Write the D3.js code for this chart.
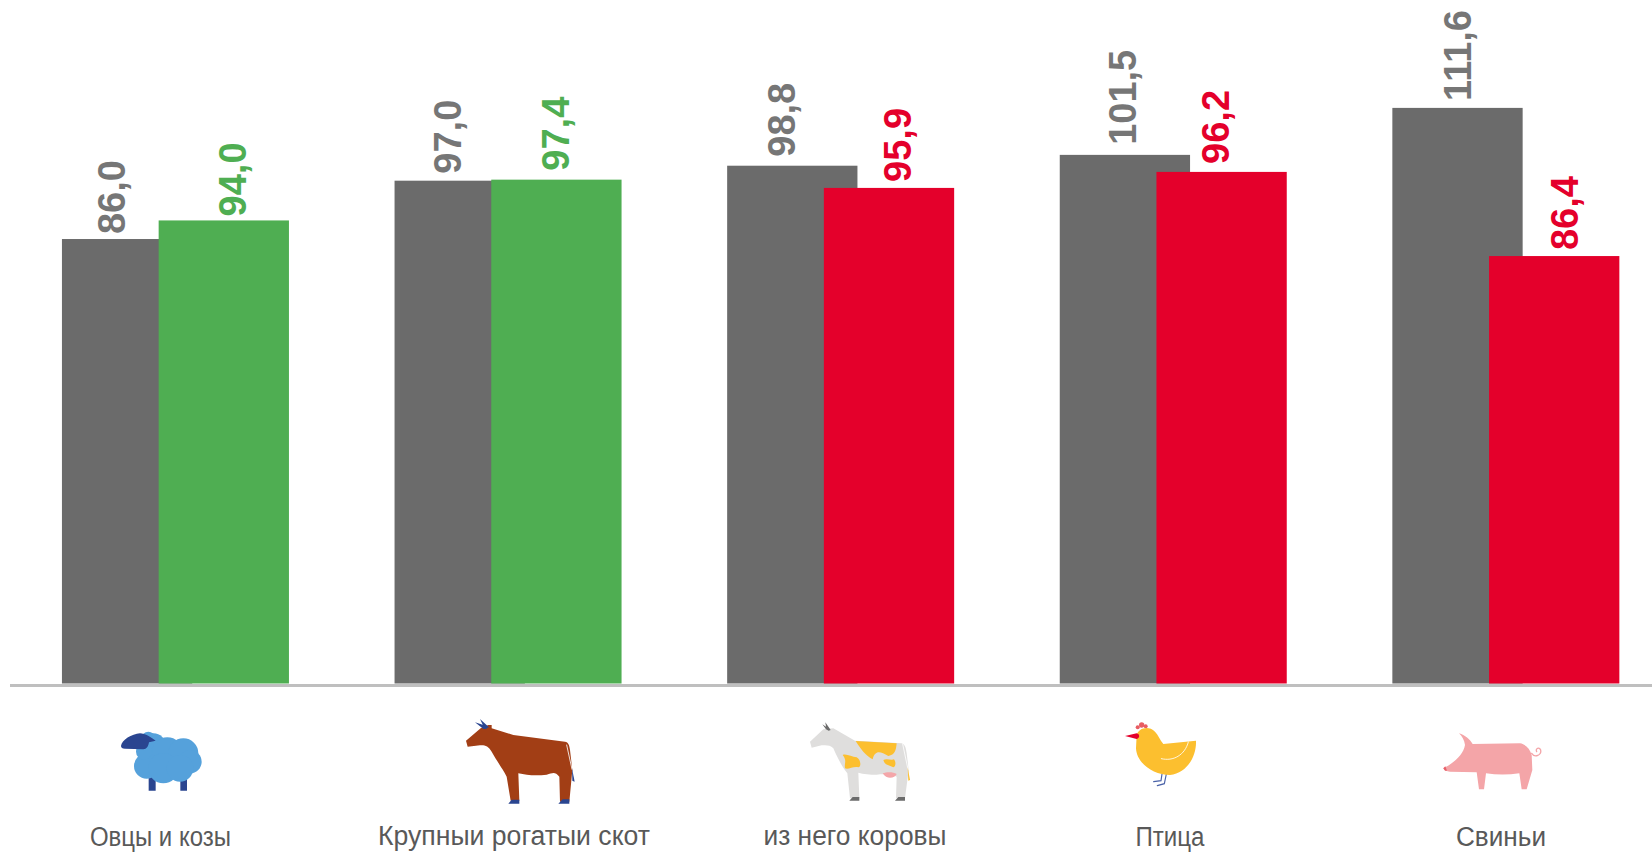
<!DOCTYPE html>
<html>
<head>
<meta charset="utf-8">
<script src="https://cdn.jsdelivr.net/npm/d3@7"></script>
<style>
  html, body { margin: 0; padding: 0; background: #fff; overflow: hidden; }
  text { font-family: "Liberation Sans", Arial, sans-serif; }
</style>
</head>
<body>
<div id="chart"></div>
<script>
// categories and the printed labels
const categories = ["Овцы и козы", "Крупныи рогатыи скот", "из него коровы", "Птица", "Свиньи"];
const previousLabels = ["86,0", "97,0", "98,8", "101,5", "111,6"];
const currentLabels = ["94,0", "97,4", "95,9", "96,2", "86,4"];

// bar lengths as drawn in the picture (they do not quite follow the printed labels)
const previousValues = [86.1, 97.4, 100.3, 102.4, 111.5];
const currentValues = [89.7, 97.6, 96.0, 99.1, 82.8];

const w = 1652;
const h = 852;
const baseline = 683.5;

// label placement, hand fitted per label
const previousDx = [63, 66, 68, 76, 79];
const currentDx = [87, 78, 87, 73, 89];
const previousGap = [5, 7, 9, 10, 7];
const currentGap = [4, 9, 6, 8, 6];
const categoryX = [160.4, 514, 855, 1170, 1501];
const categoryY = [846, 845, 845, 846, 846];
const categoryWidth = [141, 272, 183, 69, 90];

const gray = "#6b6b6b";
const green = "#4fae52";
const red = "#e4002b";
const blue = "#2a4590";

const svg = d3.select("#chart").append("svg")
    .attr("width", w)
    .attr("height", h);

const x = d3.scaleBand()
    .domain(categories)
    .range([9.5, 1672.5])
    .paddingInner(0.3154)
    .paddingOuter(0.1577);

const y = d3.scaleLinear()
    .domain([0, 132.4])
    .range([baseline, 0]);

const barWidth = 130.3;
const overlap = 96.7;

// the later bar is green when it went up and red when it went down
const currentColor = i => (i < 2 ? green : red);

svg.selectAll(".previous")
    .data(categories)
    .enter().append("rect")
    .attr("class", "previous")
    .attr("x", d => x(d))
    .attr("y", (d, i) => y(previousValues[i]))
    .attr("width", barWidth)
    .attr("height", (d, i) => baseline - y(previousValues[i]))
    .attr("fill", gray);

svg.selectAll(".current")
    .data(categories)
    .enter().append("rect")
    .attr("class", "current")
    .attr("x", d => x(d) + overlap)
    .attr("y", (d, i) => y(currentValues[i]))
    .attr("width", barWidth)
    .attr("height", (d, i) => baseline - y(currentValues[i]))
    .attr("fill", (d, i) => currentColor(i));

// axis: only the line, the labels sit under the pictures
const axis = svg.append("g")
    .attr("transform", "translate(0," + (baseline + 1.5) + ")")
    .call(d3.axisBottom(x).tickSize(0).tickFormat(""));
axis.select(".domain").attr("stroke", "#bfbfbf").attr("stroke-width", 3);

svg.selectAll(".previous-label")
    .data(previousLabels)
    .enter().append("text")
    .attr("class", "previous-label")
    .attr("transform", (d, i) => "translate(" + (x(categories[i]) + previousDx[i]) + "," +
        (y(previousValues[i]) - previousGap[i]) + ") rotate(-90)")
    .attr("font-size", 38)
    .attr("font-weight", "bold")
    .attr("fill", "#767676")
    .text(d => d);

svg.selectAll(".current-label")
    .data(currentLabels)
    .enter().append("text")
    .attr("class", "current-label")
    .attr("transform", (d, i) => "translate(" + (x(categories[i]) + overlap + currentDx[i]) + "," +
        (y(currentValues[i]) - currentGap[i]) + ") rotate(-90)")
    .attr("font-size", 38)
    .attr("font-weight", "bold")
    .attr("fill", (d, i) => currentColor(i))
    .text(d => d);

svg.selectAll(".category")
    .data(categories)
    .enter().append("text")
    .attr("class", "category")
    .attr("x", (d, i) => categoryX[i])
    .attr("y", (d, i) => categoryY[i])
    .attr("text-anchor", "middle")
    .attr("font-size", 27)
    .attr("fill", "#595959")
    .attr("textLength", (d, i) => categoryWidth[i])
    .attr("lengthAdjust", "spacingAndGlyphs")
    .text(d => d);

// pictures, drawn at 3x in their own coordinates
function icon(ox, oy) {
    return svg.append("g").attr("transform", "translate(" + ox + "," + oy + ") scale(" + (1 / 3) + ")");
}
function shape(g, d, fill) {
    g.append("path").attr("d", d).attr("fill", fill);
}
function line(g, d, color, width) {
    g.append("path").attr("d", d).attr("fill", "none").attr("stroke", color)
        .attr("stroke-width", width).attr("stroke-linecap", "round");
}

// sheep
const sheep = icon(90, 670);
shape(sheep, "M176,320H197V362H176Z M271,320H291V362H271Z", blue);
sheep.selectAll("circle")
    .data([[175, 205, 20], [190, 228, 38], [232, 248, 46], [280, 250, 45], [300, 275, 35],
           [170, 288, 38], [220, 295, 45], [270, 295, 40], [162, 245, 24]])
    .enter().append("circle")
    .attr("cx", d => d[0]).attr("cy", d => d[1]).attr("r", d => d[2])
    .attr("fill", "#55a1db");
shape(sheep, "M93,228C95,210 125,192 150,190C165,190 185,203 197,212L177,217C175,230 170,237 160,238L105,236C97,236 93,233 93,228Z", blue);

// bull
const bull = icon(90, 670);
shape(bull, "M1128,212L1172,175 1195,165 1205,165 1205,175 1270,195 1425,215C1435,216 1438,225 1440,240L1447,300 1438,395 1410,395 1408,320C1395,305 1390,308 1370,314C1340,318 1310,316 1285,310L1288,392 1262,392 1250,320C1240,300 1225,280 1205,245C1195,228 1185,225 1170,226L1133,230Z", "#a23e15");
line(bull, "M1430,225L1446,298", "#fff", 2.5);
shape(bull, "M1446,295L1454,335 1447,332Z", blue);
shape(bull, "M1192,176L1180,165 1155,157 1172,170 1180,177Z M1197,172L1170,147 1184,176Z", blue);
shape(bull, "M1255,401L1265,389H1288V401Z M1405,401L1418,388H1438V401Z", blue);

// dairy cow
const cow = icon(720, 670);
shape(cow, "M270,215L310,178 340,175 405,212 545,220C555,222 558,235 560,250L566,300 555,385 528,385 530,320C515,312 490,312 470,314C450,314 430,312 415,308L418,385 390,385 382,310C370,295 355,270 340,235C330,225 320,225 305,226L275,233Z", "#dfdedd");
shape(cow, "M407,213L530,220C528,240 525,255 505,258C480,243 465,240 458,268C440,260 420,235 407,213Z", "#fcbf2f");
shape(cow, "M368,255C380,250 395,262 410,262C422,268 425,290 415,292C400,288 385,300 375,295C372,280 382,272 368,255Z", "#fcbf2f");
shape(cow, "M490,270C500,265 515,272 522,268C528,275 528,290 520,292C510,285 495,288 490,270Z", "#fcbf2f");
shape(cow, "M488,310C500,305 520,305 530,312C525,325 500,330 488,310Z", "#f4a6a9");
line(cow, "M548,222L564,298", "#fff", 2.5);
shape(cow, "M563,292L570,330 565,332Z", "#fcbf2f");
shape(cow, "M388,392L398,381H418V392Z M525,392L535,381H555V392Z", gray);
shape(cow, "M332,180L316,157 318,170 307,163 318,178 326,182Z", gray);

// hen
const hen = icon(1110, 710);
hen.selectAll("circle")
    .data([[83, 52, 6], [95, 45, 8], [107, 49, 6]])
    .enter().append("circle")
    .attr("cx", d => d[0]).attr("cy", d => d[1]).attr("r", d => d[2])
    .attr("fill", "#e85c62");
line(hen, "M156,192L153,212 131,215", "#4a62a8", 3.5);
line(hen, "M169,192L163,221 142,227", "#4a62a8", 3.5);
shape(hen, "M80,75C85,55 115,45 135,65C145,75 150,90 160,102L258,92C260,140 230,190 180,195C130,195 80,160 78,115Z", "#fcbf2f");
shape(hen, "M45,78L80,70C90,72 90,85 80,87Z", red);
line(hen, "M154,146C190,155 225,135 235,96", "#fff", 2.5);

// pig
const pig = icon(1430, 720);
line(pig, "M305,100C315,115 335,105 332,90C328,80 315,85 320,95", "#f4a5a8", 4);
shape(pig, "M40,145C70,130 100,105 105,75C103,60 97,50 87,40C105,45 120,58 128,72L270,70C285,72 300,85 305,105L307,150 290,208 275,208 268,160C235,165 200,165 168,160L162,208 147,208 140,157L60,155C50,155 42,150 40,145Z", "#f4a5a8");
shape(pig, "M40,145L46,139 51,152 45,152Z", "#e8606a");
</script>
</body>
</html>
